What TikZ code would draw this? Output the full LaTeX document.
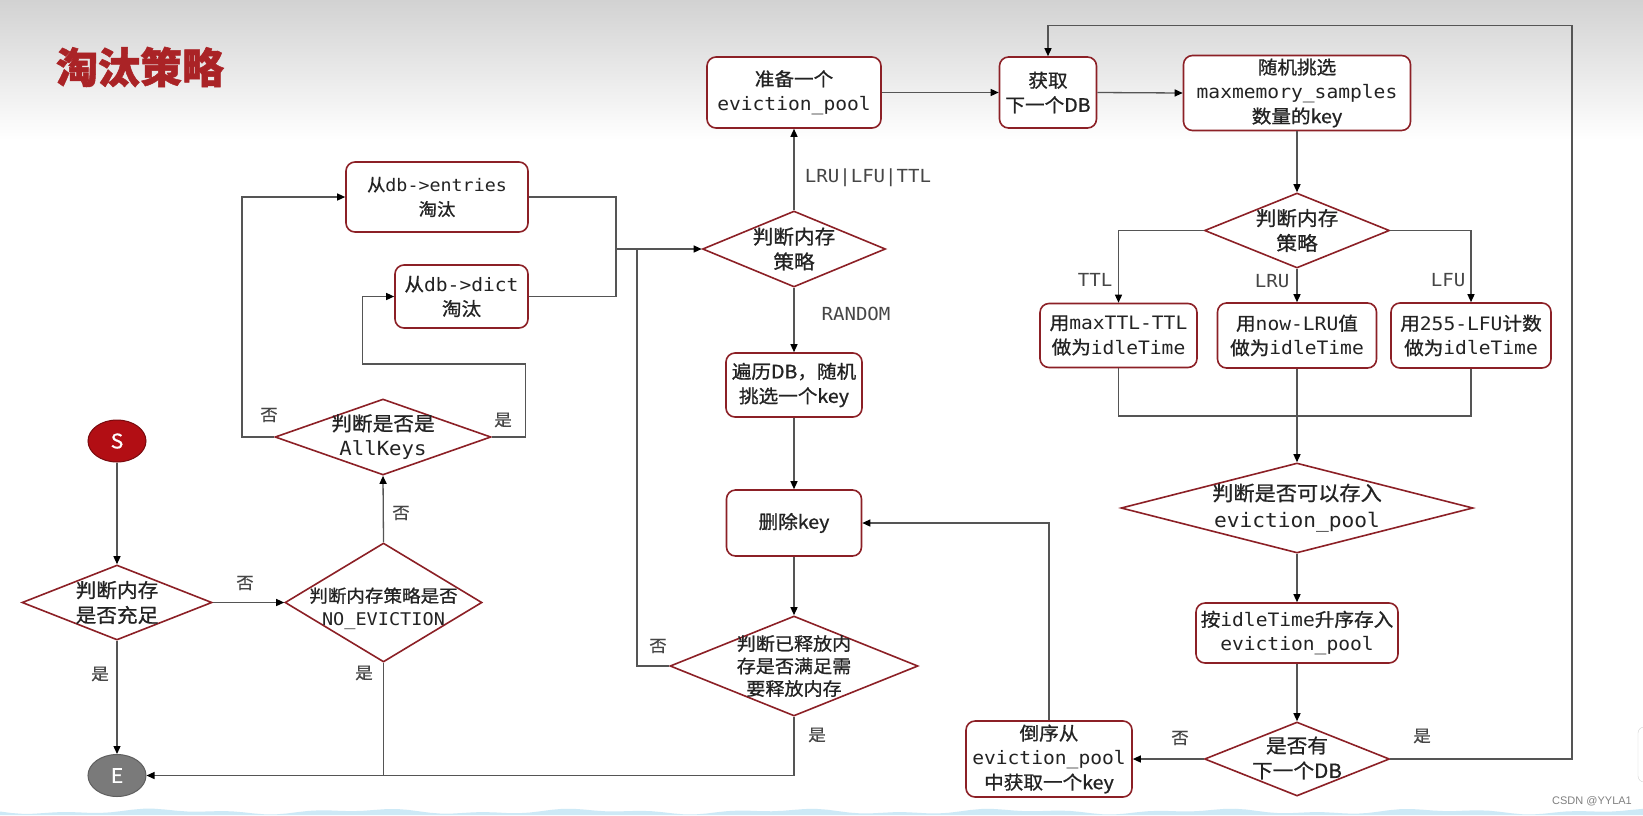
\documentclass[tikz,border=0pt]{standalone}
\usepackage{fontspec}
\setmainfont[FakeStretch=1.06]{DejaVu Sans Mono}
\newfontfamily\cjkf[FakeStretch=1.06,FakeBold=0.9]{Noto Sans CJK SC}
\newfontfamily\lblf[FakeStretch=1.06,FakeBold=0.5]{Noto Sans CJK SC}
\newfontfamily\titlef[FakeBold=1.2]{Noto Sans CJK SC}
\newfontfamily\wmf{Liberation Sans}
\newcommand\zh[1]{{\cjkf #1}}
\newcommand\fsz[2]{\fontsize{#1}{#2}\selectfont}
\usetikzlibrary{shapes.geometric,arrows.meta}
\definecolor{bord}{RGB}{140,32,38}
\definecolor{ln}{RGB}{85,85,85}
\definecolor{lbl}{RGB}{70,70,70}
\definecolor{txt}{RGB}{35,35,35}
\definecolor{titlered}{RGB}{170,35,38}
\definecolor{sred}{RGB}{178,14,20}
\definecolor{egray}{RGB}{122,122,122}
\definecolor{wave}{RGB}{205,233,246}
\begin{document}
\begin{tikzpicture}[x=1pt,y=-1pt,
  box/.style={draw=bord, line width=1.6pt, rounded corners=9pt, fill=white, align=center, inner sep=0pt, font=\fsz{18.5}{24.5}, text=txt},
  dia/.style={shape=diamond, draw=bord, line width=1.6pt, fill=white, inner sep=0pt},
  dtext/.style={align=center, font=\fsz{19.5}{25}, text=txt, inner sep=0pt},
  conn/.style={draw=ln, line width=1.3pt},
  arr/.style={conn, -{Triangle[length=8pt,width=7pt,color=black]}},
  elabel/.style={text=lbl, font=\lblf\fsz{16.5}{20}, inner sep=0pt},
  mlabel/.style={text=lbl, font=\fsz{18}{20}, inner sep=0pt},
]
\useasboundingbox (0,0) rectangle (1643,815);
% background
\fill[white] (0,0) rectangle (1643,815);
\shade[top color={rgb,255:red,210;green,210;blue,210}, bottom color=white] (0,0) rectangle (1643,140);
\fill[wave] plot[domain=0:1643, samples=150] (\x, {811.5 + 1.8*sin(\x*1.7) + 1.2*sin(\x*4.3)}) -- (1643,815) -- (0,815) -- cycle;
\draw[gray!35, fill=white, rounded corners=6pt] (1638,727) rectangle (1668,782);
\node[font=\wmf\fsz{11}{11}, text=gray] (wm) at (1592,801) {CSDN @YYLA1};

% title
\node[font=\titlef\bfseries\fsz{42}{42}, text=titlered] (title) at (140,67) {淘汰策略};

% start / end
\node[shape=ellipse, draw={rgb,255:red,120;green,10;blue,14}, line width=1pt, fill=sred, minimum width=58pt, minimum height=42pt, inner sep=0pt, text=white, font=\cjkf\fsz{20}{20}] (S) at (117,441) {S};
\node[shape=ellipse, draw={rgb,255:red,95;green,95;blue,95}, line width=1pt, fill=egray, minimum width=58pt, minimum height=42pt, inner sep=0pt, text=white, font=\cjkf\fsz{20}{20}] (E) at (117,775.5) {E};

% diamonds
\node[dia, minimum width=190pt, minimum height=75pt, label={[dtext]center:{\zh{判断内存}\\\zh{是否充足}}}] (mem) at (117,602.5) {};
\node[dia, minimum width=197pt, minimum height=119pt, label={[dtext, font=\fsz{17.5}{23}, yshift=-6pt]center:{\zh{判断内存策略是否}\\NO\_EVICTION}}] (noev) at (383.5,602.5) {};
\node[dia, minimum width=216pt, minimum height=76pt, label={[dtext]center:{\zh{判断是否是}\\AllKeys}}] (allkeys) at (383,437) {};
\node[dia, minimum width=183pt, minimum height=76pt, label={[dtext]center:{\zh{判断内存}\\\zh{策略}}}] (policy) at (794,249) {};
\node[dia, minimum width=248pt, minimum height=100pt, label={[dtext, font=\fsz{18}{22.5}]center:{\zh{判断已释放内}\\\zh{存是否满足需}\\\zh{要释放内存}}}] (release) at (794,666) {};
\node[dia, minimum width=185pt, minimum height=75pt, label={[dtext]center:{\zh{判断内存}\\\zh{策略}}}] (policy2) at (1297,230.5) {};
\node[dia, minimum width=352pt, minimum height=90pt, label={[dtext, font=\fsz{20}{27}]center:{\zh{判断是否可以存入}\\eviction\_pool}}] (canstore) at (1297,508) {};
\node[dia, minimum width=185pt, minimum height=74pt, label={[dtext, yshift=1pt]center:{\zh{是否有}\\\zh{下一个DB}}}] (hasnext) at (1297,759) {};

% boxes
\node[box, minimum width=174pt, minimum height=71pt] (pool) at (794,92.5) {\zh{准备一个}\\eviction\_pool};
\node[box, minimum width=97pt, minimum height=71pt] (next) at (1048,92.5) {\zh{获取}\\\zh{下一个DB}};
\node[box, minimum width=227pt, minimum height=75pt] (sample) at (1297,93) {\zh{随机挑选}\\maxmemory\_samples\\\zh{数量的key}};
\node[box, minimum width=182pt, minimum height=70pt, font=\fsz{17.3}{24.5}] (entries) at (437,197) {\zh{从}db->entries\\\zh{淘汰}};
\node[box, minimum width=133pt, minimum height=63pt] (dict) at (461.5,296.5) {\zh{从}db->dict\\\zh{淘汰}};
\node[box, minimum width=136pt, minimum height=64pt] (randkey) at (794,385) {\zh{遍历DB，随机}\\\zh{挑选一个key}};
\node[box, minimum width=135pt, minimum height=66pt] (delkey) at (794,523) {\zh{删除key}};
\node[box, minimum width=157pt, minimum height=64pt] (ttlbox) at (1118.5,335.5) {\zh{用}maxTTL-TTL\\\zh{做为}idleTime};
\node[box, minimum width=159pt, minimum height=65pt] (lrubox) at (1297,335.5) {\zh{用}now-LRU\zh{值}\\\zh{做为}idleTime};
\node[box, minimum width=160pt, minimum height=65pt] (lfubox) at (1471,335.5) {\zh{用}255-LFU\zh{计数}\\\zh{做为}idleTime};
\node[box, minimum width=202pt, minimum height=60pt] (store) at (1297,633) {\zh{按}idleTime\zh{升序存入}\\eviction\_pool};
\node[box, minimum width=166pt, minimum height=76pt] (reverse) at (1049,759) {\zh{倒序从}\\eviction\_pool\\\zh{中获取一个key}};

% helper coordinates
\coordinate (lcorner) at (242,197);
\coordinate (rc1) at (525.5,364);
\coordinate (rc2) at (362.5,364);
\coordinate (mb) at (616,296.5);
\coordinate (mm) at (616,249);
\coordinate (rl) at (637,249);
\coordinate (tr) at (1572,25.7);
\coordinate (bm) at (1297,416);

% connectors
\draw[arr] (S) -- (mem);
\draw[arr] (mem.south) -- (E.north);
\draw[arr] (mem.east) -- (noev.west);
\draw[arr] (noev.north) -- (allkeys.south);
\draw[conn] (noev.south) -- (noev.south |- E.east);
\draw[arr] (release.south) |- (E.east);
\draw[arr] (allkeys.west) -| (lcorner) -- (entries.west);
\draw[arr] (allkeys.east) -| (rc1) -- (rc2) |- (dict.west);
\draw[conn] (entries.east) -| (mb) -- (dict.east);
\draw[arr] (mm) -- (policy.west);
\draw[conn] (release.west) -| (rl);
\draw[arr] (policy.north) -- (pool.south);
\draw[arr] (policy.south) -- (randkey.north);
\draw[arr] (randkey.south) -- (delkey.north);
\draw[arr] (delkey.south) -- (release.north);
\draw[arr] (pool.east) -- (next.west);
\draw[arr] (next.east) -- (sample.west);
\draw[arr] (sample.south) -- (policy2.north);
\draw[arr] (policy2.west) -| (ttlbox.north);
\draw[arr] (policy2.south) -- (lrubox.north);
\draw[arr] (policy2.east) -| (lfubox.north);
\draw[conn] (ttlbox.south) |- (bm) -| (lfubox.south);
\draw[arr] (lrubox.south) -- (canstore.north);
\draw[arr] (canstore.south) -- (store.north);
\draw[arr] (store.south) -- (hasnext.north);
\draw[arr] (hasnext.west) -- (reverse.east);
\draw[arr] (hasnext.east) -| (tr) -| (next.north);
\draw[arr] (reverse.north) |- (delkey.east);

% edge labels
\node[elabel] (l1) at (245,583) {否};
\node[elabel] (l2) at (100,674) {是};
\node[elabel] (l3) at (364,673) {是};
\node[elabel] (l4) at (401,513) {否};
\node[elabel] (l5) at (269,415) {否};
\node[elabel] (l6) at (503,420) {是};
\node[mlabel] (l7) at (868,178) {LRU|LFU|TTL};
\node[mlabel] (l8) at (856,314) {RANDOM};
\node[elabel] (l9) at (658,646) {否};
\node[elabel] (l10) at (817,735) {是};
\node[mlabel] (l11) at (1095,280) {TTL};
\node[mlabel] (l12) at (1272,281) {LRU};
\node[mlabel] (l13) at (1448,280) {LFU};
\node[elabel] (l14) at (1180,738) {否};
\node[elabel] (l15) at (1422,736) {是};
\end{tikzpicture}
\end{document}
